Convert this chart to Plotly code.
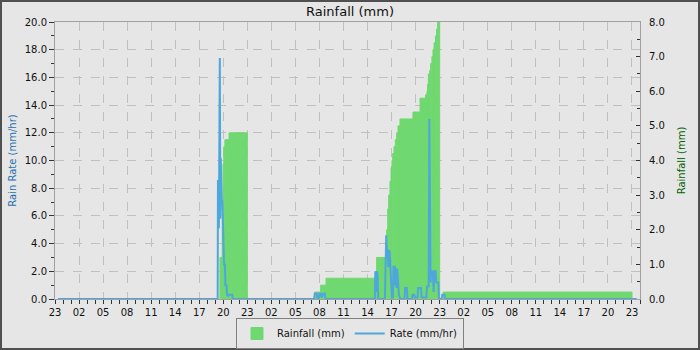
import plotly.graph_objects as go
import pandas as pd

# ---------------- data ----------------
# Cumulative daily rainfall (mm): value holds from each change time until the next
rain_times = [
    "2024-05-02 19:35", "2024-05-02 19:52", "2024-05-02 19:58", "2024-05-02 20:04",
    "2024-05-02 20:12", "2024-05-02 20:43", "2024-05-02 23:00",
    "2024-05-03 07:26", "2024-05-03 08:09", "2024-05-03 08:49", "2024-05-03 15:08",
    "2024-05-03 16:23", "2024-05-03 16:31", "2024-05-03 16:38", "2024-05-03 16:48",
    "2024-05-03 16:56", "2024-05-03 17:03", "2024-05-03 17:08", "2024-05-03 17:18",
    "2024-05-03 17:28", "2024-05-03 17:38", "2024-05-03 17:48", "2024-05-03 18:03",
    "2024-05-03 19:40", "2024-05-03 20:33", "2024-05-03 21:15", "2024-05-03 21:25",
    "2024-05-03 21:30", "2024-05-03 21:35", "2024-05-03 21:45", "2024-05-03 21:52",
    "2024-05-03 22:02", "2024-05-03 22:10", "2024-05-03 22:18", "2024-05-03 22:29",
    "2024-05-03 22:37", "2024-05-03 22:45", "2024-05-03 23:00",
    "2024-05-03 23:27",
]
rain_mm = [
    1.2, 2.3, 3.9, 4.4,
    4.6, 4.8, 0.0,
    0.2, 0.4, 0.6, 1.2,
    2.0, 2.6, 3.0, 3.4,
    3.8, 4.0, 4.2, 4.4,
    4.6, 4.8, 5.0, 5.2,
    5.4, 5.8, 5.9, 6.0,
    6.2, 6.5, 6.6, 6.8,
    7.0, 7.2, 7.4, 7.6,
    7.8, 8.0, 0.0,
    0.2,
]
rain_end = "2024-05-04 23:00"

# Rain rate (mm/hr)
rate_times = [
    "2024-05-01 23:22",
    "2024-05-02 19:18", "2024-05-02 19:20", "2024-05-02 19:24", "2024-05-02 19:27",
    "2024-05-02 19:30", "2024-05-02 19:34", "2024-05-02 19:38", "2024-05-02 19:41",
    "2024-05-02 19:45", "2024-05-02 19:49", "2024-05-02 19:53", "2024-05-02 19:57",
    "2024-05-02 20:01", "2024-05-02 20:06", "2024-05-02 20:12", "2024-05-02 20:16",
    "2024-05-02 20:24", "2024-05-02 20:28", "2024-05-02 20:35", "2024-05-02 20:40",
    "2024-05-02 21:08", "2024-05-02 21:10",
    "2024-05-03 07:20", "2024-05-03 07:25", "2024-05-03 07:40", "2024-05-03 07:45",
    "2024-05-03 07:55", "2024-05-03 08:00", "2024-05-03 08:10", "2024-05-03 08:15",
    "2024-05-03 08:30", "2024-05-03 08:40", "2024-05-03 08:45",
    "2024-05-03 14:55", "2024-05-03 14:58", "2024-05-03 15:05", "2024-05-03 15:08",
    "2024-05-03 15:11", "2024-05-03 15:16", "2024-05-03 15:20",
    "2024-05-03 16:10", "2024-05-03 16:15", "2024-05-03 16:20", "2024-05-03 16:25",
    "2024-05-03 16:30", "2024-05-03 16:36", "2024-05-03 16:40", "2024-05-03 16:46",
    "2024-05-03 16:52", "2024-05-03 16:58", "2024-05-03 17:02", "2024-05-03 17:10",
    "2024-05-03 17:14", "2024-05-03 17:20", "2024-05-03 17:25", "2024-05-03 17:30",
    "2024-05-03 17:36", "2024-05-03 17:42", "2024-05-03 17:48", "2024-05-03 17:55",
    "2024-05-03 18:05", "2024-05-03 18:38", "2024-05-03 18:41", "2024-05-03 18:55",
    "2024-05-03 18:58", "2024-05-03 19:33", "2024-05-03 19:36", "2024-05-03 19:50",
    "2024-05-03 19:55", "2024-05-03 20:15", "2024-05-03 20:18", "2024-05-03 20:40",
    "2024-05-03 20:45", "2024-05-03 21:20", "2024-05-03 21:25", "2024-05-03 21:38",
    "2024-05-03 21:43", "2024-05-03 21:47", "2024-05-03 21:52", "2024-05-03 21:56",
    "2024-05-03 22:05", "2024-05-03 22:10", "2024-05-03 22:15", "2024-05-03 22:20",
    "2024-05-03 22:30", "2024-05-03 22:34", "2024-05-03 22:50", "2024-05-03 22:55",
    "2024-05-03 23:15", "2024-05-03 23:20", "2024-05-03 23:36", "2024-05-03 23:40",
    "2024-05-04 23:35",
]
rate_mmhr = [
    0.0,
    0.0, 8.6, 8.0, 5.1,
    8.6, 17.4, 5.8, 10.2,
    8.4, 7.1, 7.1, 5.7,
    3.8, 2.5, 2.5, 1.0,
    1.0, 0.3, 0.2, 0.3,
    0.3, 0.0,
    0.0, 0.4, 0.4, 0.0,
    0.0, 0.4, 0.4, 0.1,
    0.4, 0.4, 0.0,
    0.0, 2.0, 1.7, 0.5,
    2.0, 1.6, 0.0,
    0.0, 3.3, 4.6, 3.5,
    3.6, 2.3, 3.5, 3.4,
    2.3, 0.6, 0.1, 0.1,
    2.4, 1.0, 2.4, 2.0,
    0.8, 2.2, 1.0, 0.3,
    0.0, 0.0, 0.8, 0.8,
    0.0, 0.0, 0.3, 0.3,
    0.1, 0.1, 0.8, 0.8,
    0.1, 0.1, 0.9, 0.9,
    13.0, 1.9, 1.2, 2.0,
    2.0, 1.6, 0.5, 2.0,
    2.0, 1.2, 1.2, 0.0,
    0.0, 0.3, 0.3, 0.0,
    0.0,
]

x_start = "2024-05-01 23:00"
x_stop = "2024-05-05 00:00"

# ---------------- styling ----------------
BG = "#e6e6e6"
GREEN = "#70d870"
BLUE = "#4ea7dc"
GRID = "#c0c0c0"
AXLINE = "#a0a0a0"
FONT = "DejaVu Sans"

starts = pd.to_datetime(rain_times)
ends = list(starts[1:]) + [pd.Timestamp(rain_end)]
widths = [(e - s).total_seconds() * 1000 for s, e in zip(starts, ends)]

fig = go.Figure()
fig.add_trace(go.Bar(
    x=starts, y=rain_mm, width=widths, offset=0, yaxis="y",
    name="Rainfall (mm)",
    marker=dict(color=GREEN, line=dict(width=1, color=GREEN)),
))
fig.add_trace(go.Scatter(
    x=pd.to_datetime(rate_times), y=rate_mmhr, yaxis="y2", mode="lines",
    name="Rate (mm/hr)", line=dict(color=BLUE, width=2),
))

W, H = 700, 350
L, R, T, B = 55, 60, 22, 51
pw, ph = W - L - R, H - T - B

fig.update_layout(
    width=W, height=H,
    margin=dict(l=L, r=R, t=T, b=B, pad=0, autoexpand=False),
    paper_bgcolor=BG, plot_bgcolor=BG,
    font=dict(family=FONT, size=10, color="#111111"),
    barmode="overlay",
    showlegend=True,
    title=dict(text="Rainfall (mm)", x=0.5, xanchor="center", xref="container",
               y=1 - 11 / H, yanchor="middle", yref="container",
               font=dict(size=13, color="#111111", family=FONT)),
    legend=dict(orientation="h", x=(350 - L) / pw, xanchor="center",
                y=-(318 - (T + ph)) / ph, yanchor="top",
                bgcolor=BG, bordercolor="#808080", borderwidth=1,
                font=dict(size=10, family=FONT), itemwidth=30,
                tracegroupgap=0),
    xaxis=dict(
        type="date", range=[x_start, x_stop],
        tick0=x_start, dtick=3 * 3600000, tickformat="%H",
        ticks="outside", ticklen=4, tickcolor="#333333",
        showgrid=True, gridcolor=GRID, griddash="dash", gridwidth=1,
        showline=True, linecolor=AXLINE, mirror=True,
        zeroline=False,
        minor=dict(dtick=3600000, tick0=x_start, ticks="outside", ticklen=4,
                   tickcolor="#333333", showgrid=False),
        tickfont=dict(size=10),
    ),
    yaxis=dict(
        side="right", range=[0, 8], dtick=1, tickformat=".1f",
        ticks="inside", ticklen=4, tickcolor="#333333",
        showgrid=False, zeroline=False,
        showline=True, linecolor=AXLINE,
        minor=dict(dtick=0.5, ticks="inside", ticklen=3, tickcolor="#333333",
                   showgrid=False),
        ticklabelstandoff=6,
        title=dict(text="Rainfall (mm)", font=dict(size=10, color="#006400"),
                   standoff=14),
        tickfont=dict(size=10),
    ),
    yaxis2=dict(
        overlaying="y", side="left", range=[0, 20], dtick=2, tickformat=".1f",
        ticks="outside", ticklen=5, tickcolor="#333333",
        showgrid=True, gridcolor=GRID, griddash="dash", gridwidth=1,
        zeroline=False, showline=True, linecolor=AXLINE,
        minor=dict(dtick=1, ticks="outside", ticklen=3, tickcolor="#333333",
                   showgrid=False),
        title=dict(text="Rain Rate (mm/hr)", font=dict(size=10, color="#1f6fb0"),
                   standoff=6),
        tickfont=dict(size=10),
    ),
    shapes=[dict(type="rect", xref="paper", yref="paper",
                 x0=-L / pw, x1=1 + R / pw, y0=-B / ph, y1=1 + T / ph,
                 line=dict(color="#505050", width=4), fillcolor="rgba(0,0,0,0)",
                 layer="above")],
)

fig.write_html("out.html")
